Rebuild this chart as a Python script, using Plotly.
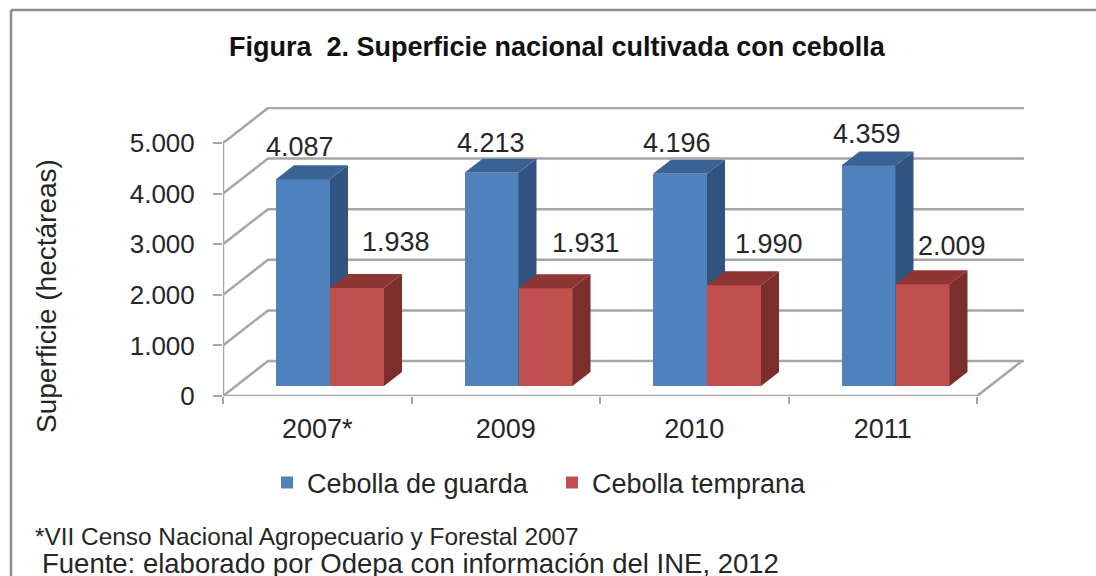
import plotly.graph_objects as go

# ---- data ----
categories = ["2007*", "2009", "2010", "2011"]
cebolla_guarda = [4087, 4213, 4196, 4359]
cebolla_temprana = [1938, 1931, 1990, 2009]
labels_guarda = ["4.087", "4.213", "4.196", "4.359"]
labels_temprana = ["1.938", "1.931", "1.990", "2.009"]
y_ticks = [0, 1000, 2000, 3000, 4000, 5000]
y_tick_labels = ["0", "1.000", "2.000", "3.000", "4.000", "5.000"]

# ---- geometry of the pseudo-3D frame (pixels) ----
W, H = 1096, 576
X0, X1, Y0 = 223, 977, 396      # front floor edge
PX_PER_CAT = (X1 - X0) / len(categories)
PX_PER_UNIT = 50.6 / 1000
WALL_DX, WALL_DY = 45, 35       # depth of the walls
BAR_DX, BAR_DY = 18, 14         # depth of the bars
BAR_LIFT = 10                   # front bar face sits above front floor edge
BAR_W = 54 / PX_PER_CAT
BAR_START = 53 / PX_PER_CAT
x_range = [0, (X1 - X0 + WALL_DX + 2) / PX_PER_CAT]
y_range = [0, (Y0 - 107) / PX_PER_UNIT]
wdx, wdy = WALL_DX / PX_PER_CAT, WALL_DY / PX_PER_UNIT
bdx, bdy = BAR_DX / PX_PER_CAT, BAR_DY / PX_PER_UNIT
lift = BAR_LIFT / PX_PER_UNIT
n = len(categories)

GRID = "#a6a6a6"
FONT = "Liberation Sans"
TXT = "#262626"

fig = go.Figure()

# walls and grid
grid_x, grid_y = [], []
for t in y_ticks:
    grid_x += [0, wdx, n + wdx + 0.01, None]
    grid_y += [t, t + wdy, t + wdy, None]
grid_x += [0, 0, None, 0, n, n + wdx]
grid_y += [0, y_ticks[-1], None, 0, 0, wdy]
fig.add_trace(go.Scatter(x=grid_x, y=grid_y, mode="lines", showlegend=False, hoverinfo="skip",
                         line=dict(color=GRID, width=2.5)))


def add_series(values, offset, name, front, side, top, xa, ya):
    xs = [i + offset + BAR_W / 2 for i in range(n)]
    fig.add_trace(go.Bar(x=xs, y=values, base=[lift] * n, width=BAR_W, name=name,
                         marker=dict(color=front, line=dict(width=0)), xaxis=xa, yaxis=ya))
    sx, sy, tx, ty = [], [], [], []
    for x, v in zip(xs, values):
        l, r, b, t = x - BAR_W / 2, x + BAR_W / 2, lift, lift + v
        sx += [r, r + bdx, r + bdx, r, r, None]
        sy += [b, b + bdy, t + bdy, t, b, None]
        tx += [l, l + bdx, r + bdx, r, l, None]
        ty += [t, t + bdy, t + bdy, t, t, None]
    for px, py, c in ((sx, sy, side), (tx, ty, top)):
        fig.add_trace(go.Scatter(x=px, y=py, mode="lines", fill="toself", fillcolor=c,
                                 line=dict(width=0, color=c), showlegend=False, hoverinfo="skip",
                                 xaxis=xa, yaxis=ya))


add_series(cebolla_guarda, BAR_START, "Cebolla de guarda", "#4f81bd", "#31537f", "#3a6393", "x2", "y2")
add_series(cebolla_temprana, BAR_START + BAR_W, "Cebolla temprana", "#c0504d", "#7b2e2c", "#8e3634", "x3", "y3")

# data labels
guarda_shift = [(-3, 32), (-1, 30), (-3, 31), (-2, 31)]
temprana_shift = [(39, 46), (40, 45), (35, 41), (29, 38)]
for i in range(n):
    for vals, labs, off, sh in ((cebolla_guarda, labels_guarda, BAR_START, guarda_shift),
                                (cebolla_temprana, labels_temprana, BAR_START + BAR_W, temprana_shift)):
        fig.add_annotation(x=i + off + BAR_W / 2, y=vals[i] + lift, xref="x", yref="y", text=labs[i],
                           showarrow=False, xshift=sh[i][0], yshift=sh[i][1],
                           font=dict(family=FONT, size=27, color=TXT))


M = dict(l=X0, r=W - (X0 + x_range[1] * PX_PER_CAT), t=107, b=H - Y0)


def xp(p):
    return (p - M["l"]) / (W - M["l"] - M["r"])


def yp(p):
    return (H - M["b"] - p) / (H - M["t"] - M["b"])


for txt, x, y, size, anchor, angle, color in (
    ("<b>Figura  2. Superficie nacional cultivada con cebolla</b>", 557, 47, 27, "center", 0, "#111111"),
    ("Superficie (hectáreas)", 46, 296, 28, "center", -90, TXT),
    ("*VII Censo Nacional Agropecuario y Forestal 2007", 33, 536, 24.4, "left", 0, TXT),
    ("Fuente: elaborado por Odepa con información del INE, 2012", 40, 563, 27.5, "left", 0, TXT),
):
    fig.add_annotation(x=xp(x), y=yp(y), xref="paper", yref="paper", text=txt, showarrow=False,
                       xanchor=anchor, yanchor="middle", textangle=angle,
                       font=dict(family=FONT, size=size, color=color))

fig.add_shape(type="line", xref="paper", yref="paper", x0=xp(11), x1=xp(11), y0=yp(576), y1=yp(10),
              line=dict(color="#8c8c8c", width=2.5))
fig.add_shape(type="line", xref="paper", yref="paper", x0=xp(11), x1=xp(1096), y0=yp(10), y1=yp(10),
              line=dict(color="#8c8c8c", width=2.5))

hidden = dict(visible=False, fixedrange=True)
fig.update_layout(
    width=W, height=H, margin=M, autosize=False,
    paper_bgcolor="white", plot_bgcolor="white", barmode="overlay", bargap=0,
    font=dict(family=FONT, color=TXT),
    xaxis=dict(range=x_range, showgrid=False, zeroline=False, showline=False,
               tickmode="array", tickvals=[i + 0.5 for i in range(n)], ticktext=categories,
               ticks="outside", ticklen=9, tickcolor="rgba(0,0,0,0)",
               tickfont=dict(family=FONT, size=27, color=TXT),
               minor=dict(tickmode="array", tickvals=list(range(n + 1)), ticks="outside", ticklen=7,
                          tickcolor=GRID, tickwidth=2, showgrid=False)),
    yaxis=dict(range=y_range, showgrid=False, zeroline=False, showline=False,
               tickmode="array", tickvals=y_ticks, ticktext=y_tick_labels,
               ticks="outside", ticklen=9, tickcolor=GRID, tickwidth=2, ticklabelstandoff=13,
               tickfont=dict(family=FONT, size=26, color=TXT)),
    xaxis2=dict(range=x_range, overlaying="x", **hidden),
    yaxis2=dict(range=y_range, overlaying="y", **hidden),
    xaxis3=dict(range=x_range, overlaying="x", **hidden),
    yaxis3=dict(range=y_range, overlaying="y", **hidden),
    legend=dict(orientation="h", x=xp(267), y=yp(483), xanchor="left", yanchor="middle",
                font=dict(family=FONT, size=27, color=TXT), bgcolor="rgba(0,0,0,0)",
                traceorder="normal", entrywidth=240, entrywidthmode="pixels"),
    showlegend=True,
)

fig.write_html("out.html", post_script="document.body.style.margin='0';",
               config={"displayModeBar": False})
